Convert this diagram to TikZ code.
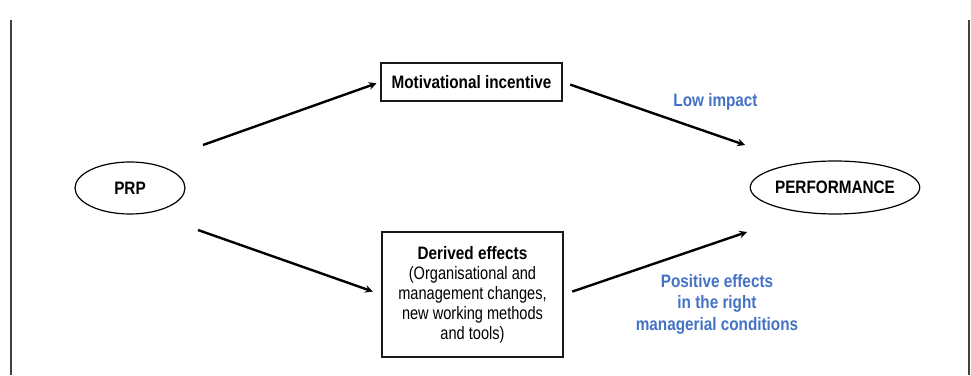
\documentclass[tikz,border=0pt]{standalone}
\usepackage{fontspec}
\setmainfont{Liberation Sans}[FakeStretch=0.81,BoldFeatures={FakeStretch=0.85}]
\usepackage{tikz}
\usetikzlibrary{shapes.geometric}
\definecolor{lblue}{RGB}{68,114,196}
\tikzstyle{ov}=[shape=rectangle,
                draw=black!90,
                line width=1.4pt,
                inner sep=0pt,
                minimum width=181pt,
                font=\fontsize{18}{20}\selectfont]
\tikzstyle{lv}=[shape=ellipse,
                draw=black,
                line width=1.2pt,
                inner sep=0pt,
                font=\bfseries\fontsize{18}{20}\selectfont]
\tikzstyle{lab}=[text=lblue,
                 align=center,
                 font=\bfseries\fontsize{18}{21.5}\selectfont]

\begin{document}
\begin{tikzpicture}[>=stealth,line width=2.4pt,x=1pt,y=1pt]
\useasboundingbox (0,0) rectangle (971,375);

% frame sides
\draw[line width=1.3pt,black!75] (11,355) -- (11,0);
\draw[line width=1.3pt,black!75] (969,355) -- (969,0);

% variables
\node[lv,minimum width=110pt,minimum height=52pt] (prp) at (130,187) {PRP};
\node[lv,minimum width=138pt,minimum height=53pt] (perf) at (835,187.5) {PERFORMANCE};

% channels
\node[ov,minimum height=38pt,font=\bfseries\fontsize{18}{20}\selectfont] (mot) at (471.5,293) {Motivational incentive};
\node[ov,minimum height=125pt,align=center] (der) at (472.5,80.5)
  {\textbf{Derived effects}\\(Organisational and\\management changes,\\new working methods\\and tools)};

% free ends
\coordinate (prp-up) at (203,230);
\coordinate (prp-dn) at (198,145);
\coordinate (perf-up) at (745,230);
\coordinate (perf-dn) at (747,143);

% paths
\path[->] (prp-up) edge[shorten >=4pt] (mot.west);
\path[->] (prp-dn) edge[shorten >=9pt] (der.west);
\path[->] (mot.east) edge[shorten <=8pt] (perf-up);
\path[->] (der.east) edge[shorten <=9pt] (perf-dn);

% labels
\node[lab] (low) at (715.5,273) {Low impact};
\node[lab] (pos) at (717,71) {Positive effects\\in the right\\managerial conditions};

\end{tikzpicture}
\end{document}
